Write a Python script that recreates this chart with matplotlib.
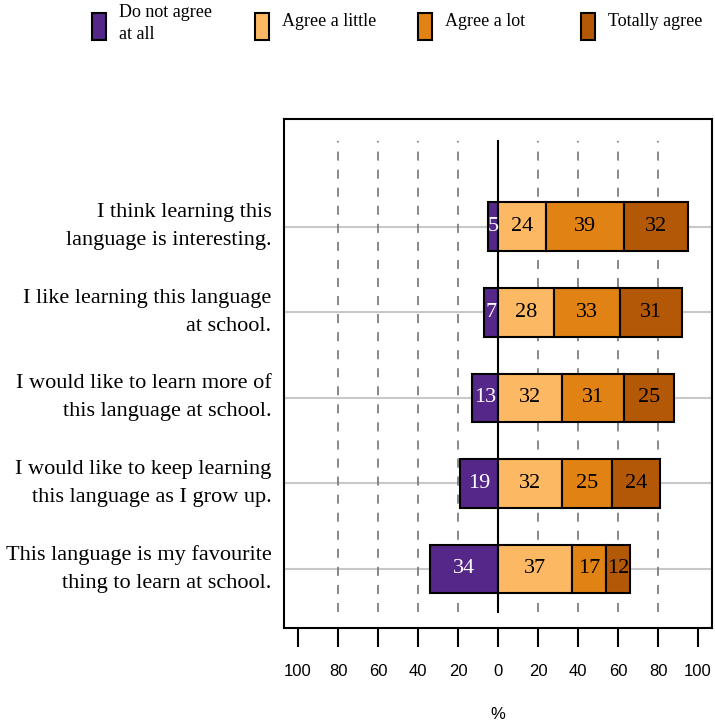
import matplotlib
matplotlib.use("Agg")
import matplotlib.pyplot as plt
from matplotlib.patches import Rectangle
from matplotlib.transforms import ScaledTranslation
import numpy as np

statements = [
    "I think learning this\nlanguage is interesting.",
    "I like learning this language\nat school.",
    "I would like to learn more of\nthis language at school.",
    "I would like to keep learning\nthis language as I grow up.",
    "This language is my favourite\nthing to learn at school.",
]
not_at_all = [5, 7, 13, 19, 34]
a_little = [24, 28, 32, 32, 37]
a_lot = [39, 33, 31, 25, 17]
totally = [32, 31, 25, 24, 12]
categories = ["Do not agree\nat all", "Agree a little", "Agree a lot", "Totally agree"]
colors = ["#542788", "#FDB863", "#E08214", "#B35806"]
xticks = [-100, -80, -60, -40, -20, 0, 20, 40, 60, 80, 100]

serif = ["Liberation Serif", "DejaVu Serif"]
sans = ["Liberation Sans", "DejaVu Sans"]

W, H = 715, 724
fig = plt.figure(figsize=(W/100, H/100), dpi=100)
ax = fig.add_axes([284/W, 1-628/H, (712-284)/W, (628-119)/H])

n = len(statements)
y = np.arange(n, 0, -1)  # top statement at highest y

ax.set_xlim(-107, 107)
ax.set_ylim(0.31, 6.26)

# background lines
for yy in y:
    ax.axhline(yy, color="#c8c8c8", lw=1.5, zorder=1)
for xv in xticks:
    if xv in (-100, 0, 100):
        continue
    ax.plot([xv, xv], [0.5, 6.0], color="#7f7f7f", lw=1.3, ls=(0, (5, 5)), zorder=1)
ax.plot([0, 0], [0.5, 6.0], color="black", lw=1.5, zorder=1)

h = 0.57
lw = 1.5
fs_num = 16
ax.barh(y, [-v for v in not_at_all], height=h, color=colors[0], edgecolor="black", lw=lw, zorder=3)
left = np.zeros(n)
for vals, c in zip([a_little, a_lot, totally], colors[1:]):
    ax.barh(y, vals, left=left, height=h, color=c, edgecolor="black", lw=lw, zorder=3)
    for yy, l, v in zip(y, left, vals):
        ax.text(l + v/2, yy, str(v), ha="center", va="center", fontsize=fs_num,
                family=serif, color="black", zorder=4)
    left = left + np.array(vals)
for yy, v in zip(y, not_at_all):
    ax.text(-v/2, yy, str(v), ha="center", va="center", fontsize=fs_num,
            family=serif, color="white", zorder=4)

ax.set_yticks(y)
ax.set_yticklabels(statements, fontsize=16, family=serif, linespacing=1.65)
ax.tick_params(axis="y", length=0, pad=9)
shift = ScaledTranslation(0, 0.07, fig.dpi_scale_trans)
for t in ax.get_yticklabels():
    t.set_transform(t.get_transform() + shift)

ax.set_xticks(xticks)
ax.set_xticklabels([str(abs(v)) for v in xticks], fontsize=12, family=sans)
ax.tick_params(axis="x", direction="out", length=14, width=1.5, pad=12)
ax.set_xlabel("%", fontsize=12, family=sans, labelpad=20)

for s in ax.spines.values():
    s.set_linewidth(1.5)

# legend: equal-width columns across the top
leg_x0, leg_step = 92, 163
for i, (lab, c) in enumerate(zip(categories, colors)):
    x = leg_x0 + i * leg_step
    fig.add_artist(Rectangle((x/W, 1-40/H), 14/W, 27/H, transform=fig.transFigure,
                             facecolor=c, edgecolor="black", lw=1.5))
    ty = 23.5 if "\n" in lab else 21
    fig.text((x + 27)/W, 1-ty/H, lab, ha="left", va="center", fontsize=13,
             family=serif, linespacing=1.45)

fig.savefig("out.png", dpi=100)
